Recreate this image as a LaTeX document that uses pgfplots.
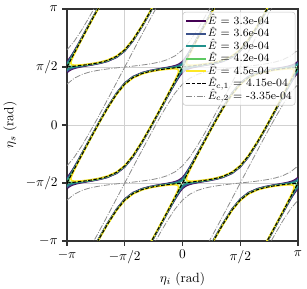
\documentclass[border=0pt]{standalone}
\usepackage{pgfplots}
\pgfplotsset{compat=1.18}
\usepackage{pgfplotstable}
\definecolor{v1}{HTML}{440154}
\definecolor{v2}{HTML}{3B528B}
\definecolor{v3}{HTML}{21918C}
\definecolor{v4}{HTML}{5EC962}
\definecolor{v5}{HTML}{FDE725}
\definecolor{gline}{HTML}{8C8C8C}

% half-widths h (rad) of the contours: y = x +/- h (mod pi)
\pgfplotstableread{
x h1 h2 h3 hc
-3.1416 1.4197 1.4494 1.4891 1.5708
-3.1216 1.4186 1.4481 1.4871 1.5529
-3.0916 1.4131 1.4413 1.4776 1.5261
-3.0416 1.3949 1.4198 1.4495 1.4814
-2.9916 1.3681 1.3894 1.4135 1.4367
-2.9416 1.3358 1.3541 1.3740 1.3922
-2.8416 1.2617 1.2758 1.2905 1.3034
-2.7416 1.1816 1.1933 1.2050 1.2150
-2.5916 1.0574 1.0668 1.0763 1.0843
-2.4416 0.9329 0.9412 0.9497 0.9567
-2.2416 0.7719 0.7799 0.7879 0.7945
-2.0416 0.6246 0.6330 0.6414 0.6482
-1.7916 0.4830 0.4927 0.5022 0.5101
-1.5708 0.4346 0.4451 0.4553 0.4637
-1.35 0.4830 0.4927 0.5022 0.5101
-1.1 0.6246 0.6330 0.6414 0.6482
-0.9 0.7719 0.7799 0.7879 0.7945
-0.7 0.9329 0.9412 0.9497 0.9567
-0.55 1.0574 1.0668 1.0763 1.0843
-0.4 1.1816 1.1933 1.2050 1.2150
-0.3 1.2617 1.2758 1.2905 1.3034
-0.2 1.3358 1.3541 1.3740 1.3922
-0.15 1.3681 1.3894 1.4135 1.4367
-0.1 1.3949 1.4198 1.4495 1.4814
-0.05 1.4131 1.4413 1.4776 1.5261
-0.02 1.4186 1.4481 1.4871 1.5529
0 1.4197 1.4494 1.4891 1.5708
0.02 1.4186 1.4481 1.4871 1.5529
0.05 1.4131 1.4413 1.4776 1.5261
0.1 1.3949 1.4198 1.4495 1.4814
0.15 1.3681 1.3894 1.4135 1.4367
0.2 1.3358 1.3541 1.3740 1.3922
0.3 1.2617 1.2758 1.2905 1.3034
0.4 1.1816 1.1933 1.2050 1.2150
0.55 1.0574 1.0668 1.0763 1.0843
0.7 0.9329 0.9412 0.9497 0.9567
0.9 0.7719 0.7799 0.7879 0.7945
1.1 0.6246 0.6330 0.6414 0.6482
1.35 0.4830 0.4927 0.5022 0.5101
1.5708 0.4346 0.4451 0.4553 0.4637
1.7916 0.4830 0.4927 0.5022 0.5101
2.0416 0.6246 0.6330 0.6414 0.6482
2.2416 0.7719 0.7799 0.7879 0.7945
2.4416 0.9329 0.9412 0.9497 0.9567
2.5916 1.0574 1.0668 1.0763 1.0843
2.7416 1.1816 1.1933 1.2050 1.2150
2.8416 1.2617 1.2758 1.2905 1.3034
2.9416 1.3358 1.3541 1.3740 1.3922
2.9916 1.3681 1.3894 1.4135 1.4367
3.0416 1.3949 1.4198 1.4495 1.4814
3.0916 1.4131 1.4413 1.4776 1.5261
3.1216 1.4186 1.4481 1.4871 1.5529
3.1416 1.4197 1.4494 1.4891 1.5708
}\tmain

\pgfplotstableread{
x h
-3.1007 1.5708
-3.0986 1.5588
-3.0916 1.5450
-3.0816 1.5316
-3.0616 1.5093
-3.0416 1.4893
-2.9916 1.4419
-2.9416 1.3960
-2.8416 1.3059
-2.7416 1.2171
-2.5916 1.0859
-2.4416 0.9581
-2.2416 0.7959
-2.0416 0.6497
-1.7916 0.5116
-1.5708 0.4653
-1.35 0.5116
-1.1 0.6497
-0.9 0.7959
-0.7 0.9581
-0.55 1.0859
-0.4 1.2171
-0.3 1.3059
-0.2 1.3960
-0.15 1.4419
-0.1 1.4893
-0.08 1.5093
-0.06 1.5316
-0.05 1.5450
-0.043 1.5588
-0.0409 1.5708
}\tfour

\pgfplotstableread{
x h
-3.0334 1.5708
-3.0316 1.5533
-3.0266 1.5362
-3.0116 1.5067
-2.9916 1.4783
-2.9416 1.4211
-2.8416 1.3222
-2.7416 1.2296
-2.5916 1.0957
-2.4416 0.9667
-2.2416 0.8039
-2.0416 0.6580
-1.7916 0.5210
-1.5708 0.4752
-1.35 0.5210
-1.1 0.6580
-0.9 0.8039
-0.7 0.9667
-0.55 1.0957
-0.4 1.2296
-0.3 1.3222
-0.2 1.4211
-0.15 1.4783
-0.13 1.5067
-0.115 1.5362
-0.11 1.5533
-0.1082 1.5708
}\tfive

\pgfplotstableread{
x h
-3.1416 1.1072
-2.9416 1.0688
-2.7416 0.9681
-2.5416 0.8304
-2.3416 0.6728
-2.1416 0.5044
-1.9416 0.3301
-1.7916 0.1972
-1.6916 0.1080
-1.6416 0.0633
-1.6016 0.0276
-1.5708 0
-1.54 0.0276
-1.5 0.0633
-1.45 0.1080
-1.35 0.1972
-1.2 0.3301
-1.0 0.5044
-0.8 0.6728
-0.6 0.8304
-0.4 0.9681
-0.2 1.0688
0 1.1072
0.2 1.0688
0.4 0.9681
0.6 0.8304
0.8 0.6728
1.0 0.5044
1.2 0.3301
1.35 0.1972
1.45 0.1080
1.5 0.0633
1.54 0.0276
1.5708 0
1.6016 0.0276
1.6416 0.0633
1.6916 0.1080
1.7916 0.1972
1.9416 0.3301
2.1416 0.5044
2.3416 0.6728
2.5416 0.8304
2.7416 0.9681
2.9416 1.0688
3.1416 1.1072
}\tgray

% draw one level: table, column, style, x shift
\newcommand{\lvl}[4]{%
  \pgfplotsinvokeforeach{-2,...,2}{%
    \addplot[#3,forget plot] table[x expr=\thisrow{x}+#4, y expr=\thisrow{x}+#4+\thisrow{#2}+(##1)*pi]{#1};
    \addplot[#3,forget plot] table[x expr=\thisrow{x}+#4, y expr=\thisrow{x}+#4-\thisrow{#2}+(##1)*pi]{#1};
  }%
}

\begin{document}
\begin{tikzpicture}
\begin{axis}[
  name=ax,
  width=173.25pt, height=174pt, scale only axis,
  xmin=-pi, xmax=pi, ymin=-pi, ymax=pi,
  enlargelimits=false,
  xtick={-3.14159,-1.5708,0,1.5708,3.14159},
  ytick={-3.14159,-1.5708,0,1.5708,3.14159},
  xticklabels={$-\pi$,$-\pi/2$,$0$,$\pi/2$,$\pi$},
  yticklabels={$-\pi$,$-\pi/2$,$0$,$\pi/2$,$\pi$},
  xlabel={$\eta_i$ (rad)}, ylabel={$\eta_s$ (rad)},
  grid=major, major grid style={black!18, line width=0.4pt},
  axis line style={black!80, line width=1.1pt},
  tick style={black!80, line width=0.8pt},
  major tick length=3.5pt, tick align=outside,
  xtick pos=bottom, ytick pos=left,
  legend cell align=left,
  legend style={at={(rel axis cs:1,1)}, anchor=north east, xshift=-2pt, yshift=-2.2pt,
    draw=black!22, fill=white, fill opacity=0.8, text opacity=1,
    rounded corners=2pt, font=\fontsize{8.3}{9}\selectfont, row sep=0pt,
    inner sep=2pt,
    nodes={inner sep=0.4pt, text height=6.6pt, text depth=2.0pt}},
  legend image code/.code={\draw[#1] (0pt,0pt) -- (15pt,0pt);},
]
\lvl{\tmain}{h1}{v1,line width=1.2pt}{0}
\lvl{\tmain}{h2}{v2,line width=1.2pt}{0}
\lvl{\tmain}{h3}{v3,line width=1.2pt}{0}
\lvl{\tfour}{h}{v4,line width=1.2pt}{0}
\lvl{\tfour}{h}{v4,line width=1.2pt}{pi}
\lvl{\tfive}{h}{v5,line width=1.2pt}{0}
\lvl{\tfive}{h}{v5,line width=1.2pt}{pi}
\lvl{\tmain}{hc}{black,line width=0.8pt,dash pattern=on 2.8pt off 1.2pt}{0}
\lvl{\tgray}{h}{gline,line width=0.6pt,dash pattern=on 4.5pt off 1.2pt on 0.7pt off 1.2pt}{0}
\addlegendimage{v1,line width=1.3pt}\addlegendentry{$\hat{E}$ = 3.3e-04}
\addlegendimage{v2,line width=1.3pt}\addlegendentry{$\hat{E}$ = 3.6e-04}
\addlegendimage{v3,line width=1.3pt}\addlegendentry{$\hat{E}$ = 3.9e-04}
\addlegendimage{v4,line width=1.3pt}\addlegendentry{$\hat{E}$ = 4.2e-04}
\addlegendimage{v5,line width=1.3pt}\addlegendentry{$\hat{E}$ = 4.5e-04}
\addlegendimage{black,line width=0.8pt,dash pattern=on 2.8pt off 1.2pt}\addlegendentry{$\hat{E}_{c,1}$ = 4.15e-04}
\addlegendimage{gline,line width=0.6pt,dash pattern=on 4.5pt off 1.2pt on 0.7pt off 1.2pt}\addlegendentry{$\hat{E}_{c,2}$ = -3.35e-04}
\end{axis}
\pgfresetboundingbox
\path[use as bounding box] ([xshift=-50.25pt,yshift=-36pt]ax.south west) rectangle ([xshift=6.75pt,yshift=6.75pt]ax.north east);
\end{tikzpicture}
\end{document}
